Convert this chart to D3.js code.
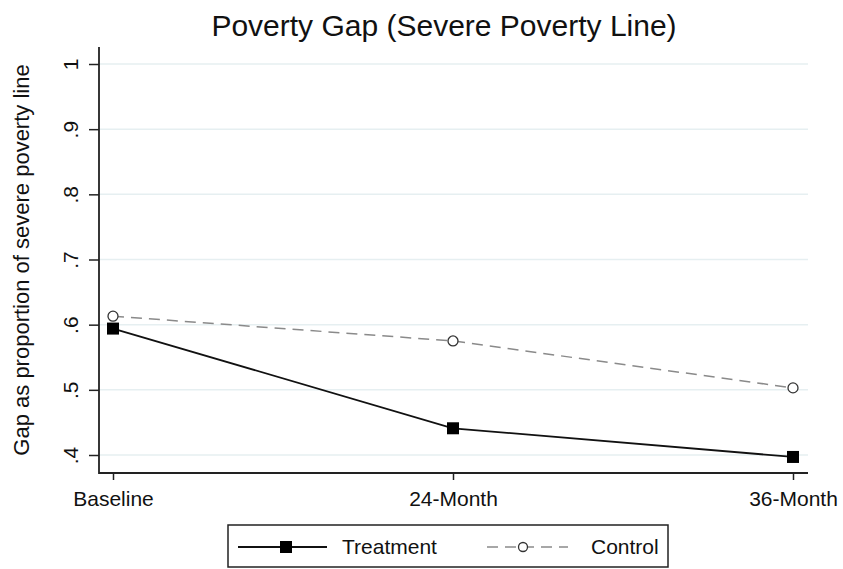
<!DOCTYPE html>
<html>
<head>
<meta charset="utf-8">
<script src="https://cdn.jsdelivr.net/npm/d3@7"></script>
<style>
  body { margin: 0; background: #fff; }
  text { font-family: "Liberation Sans", Arial, sans-serif; fill: #111; }
</style>
</head>
<body>
<div id="chart"></div>
<script>
// waves and values
const waves = ["Baseline", "24-Month", "36-Month"];
const treatment = [0.594, 0.441, 0.397];
const control = [0.613, 0.575, 0.503];
const yTicks = [0.4, 0.5, 0.6, 0.7, 0.8, 0.9, 1];

const width = 843,
  height = 569,
  plot = ({left: 99, right: 808, top: 47, bottom: 473});

const svg = d3.select("#chart")
  .append("svg")
  .attr("width", width)
  .attr("height", height);

let x = d3.scalePoint()
  .domain(waves)
  .range([113, 793]);

let y = d3.scaleLinear()
  .domain([0.4, 1])
  .range([455, 64]);

// gridlines
svg.append("g")
  .selectAll("line")
  .data(yTicks)
  .join("line")
  .attr("x1", plot.left)
  .attr("x2", plot.right)
  .attr("y1", d => y(d))
  .attr("y2", d => y(d))
  .attr("stroke", "#e6eff1")
  .attr("stroke-width", 1.5);

// y axis
const yAxis = svg.append("g")
  .attr("transform", `translate(${plot.left},0)`)
  .call(d3.axisLeft(y).tickValues(yTicks).tickSize(10).tickSizeOuter(0)
    .tickFormat(d => d === 1 ? "1" : d3.format(".1f")(d).replace(/^0/, "")));
yAxis.select(".domain").remove();
yAxis.selectAll(".tick line").attr("stroke", "#222").attr("stroke-width", 1.5);
yAxis.selectAll(".tick text")
  .attr("transform", "rotate(-90)")
  .attr("x", 0)
  .attr("y", -21)
  .attr("dy", 0)
  .attr("text-anchor", "middle")
  .style("font-size", "21px")
  .style("font-family", "Liberation Sans, Arial, sans-serif")
  .attr("fill", "#111");

// x axis
const xAxis = svg.append("g")
  .attr("transform", `translate(0,${plot.bottom})`)
  .call(d3.axisBottom(x).tickSize(7).tickSizeOuter(0));
xAxis.select(".domain").remove();
xAxis.selectAll(".tick line").attr("stroke", "#222").attr("stroke-width", 1.5);
xAxis.selectAll(".tick text")
  .attr("y", 33)
  .attr("dy", 0)
  .style("font-size", "21px")
  .style("font-family", "Liberation Sans, Arial, sans-serif")
  .attr("fill", "#111");

// axis lines
svg.append("path")
  .attr("d", `M${plot.left},${plot.top}V${plot.bottom}H${plot.right}`)
  .attr("fill", "none")
  .attr("stroke", "#222")
  .attr("stroke-width", 1.8);

// axis label
svg.append("text")
  .attr("transform", `translate(29,${(plot.top + plot.bottom) / 2}) rotate(-90)`)
  .attr("text-anchor", "middle")
  .style("font-size", "22px")
  .text("Gap as proportion of severe poverty line");

// title
svg.append("text")
  .attr("x", 444)
  .attr("y", 36)
  .attr("text-anchor", "middle")
  .style("font-size", "30px")
  .text("Poverty Gap (Severe Poverty Line)");

let line = d3.line()
  .x((d, i) => x(waves[i]))
  .y(d => y(d));

// control series
svg.append("path")
  .datum(control)
  .attr("d", line)
  .attr("fill", "none")
  .attr("stroke", "#8a8a8a")
  .attr("stroke-width", 1.5)
  .attr("stroke-dasharray", "11,7");

svg.append("g")
  .selectAll("circle")
  .data(control)
  .join("circle")
  .attr("cx", (d, i) => x(waves[i]))
  .attr("cy", d => y(d))
  .attr("r", 5)
  .attr("fill", "#fff")
  .attr("stroke", "#333")
  .attr("stroke-width", 1.3);

// treatment series
svg.append("path")
  .datum(treatment)
  .attr("d", line)
  .attr("fill", "none")
  .attr("stroke", "#111")
  .attr("stroke-width", 1.8);

svg.append("g")
  .selectAll("rect")
  .data(treatment)
  .join("rect")
  .attr("x", (d, i) => x(waves[i]) - 6)
  .attr("y", d => y(d) - 6)
  .attr("width", 12)
  .attr("height", 12)
  .attr("fill", "#000");

// legend
const legend = svg.append("g");
legend.append("rect")
  .attr("x", 228)
  .attr("y", 525)
  .attr("width", 440)
  .attr("height", 42)
  .attr("fill", "#fff")
  .attr("stroke", "#222")
  .attr("stroke-width", 1.5);

legend.append("line")
  .attr("x1", 238).attr("x2", 327)
  .attr("y1", 547).attr("y2", 547)
  .attr("stroke", "#111")
  .attr("stroke-width", 1.8);
legend.append("rect")
  .attr("x", 280).attr("y", 541)
  .attr("width", 12).attr("height", 12)
  .attr("fill", "#000");
legend.append("text")
  .attr("x", 342).attr("y", 554)
  .style("font-size", "21px")
  .text("Treatment");

legend.append("line")
  .attr("x1", 487).attr("x2", 568)
  .attr("y1", 547).attr("y2", 547)
  .attr("stroke", "#8a8a8a")
  .attr("stroke-width", 1.5)
  .attr("stroke-dasharray", "11,7");
legend.append("circle")
  .attr("cx", 523).attr("cy", 547)
  .attr("r", 4.5)
  .attr("fill", "#fff")
  .attr("stroke", "#333")
  .attr("stroke-width", 1.3);
legend.append("text")
  .attr("x", 591).attr("y", 554)
  .style("font-size", "21px")
  .text("Control");
</script>
</body>
</html>
